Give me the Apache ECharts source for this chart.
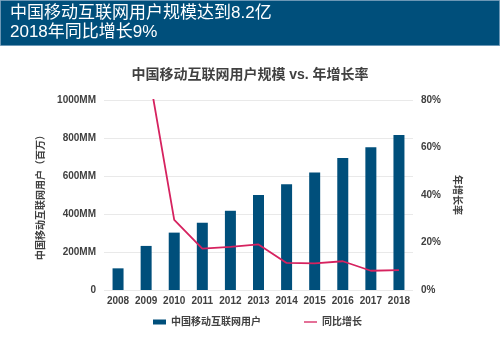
<!DOCTYPE html>
<html><head><meta charset="utf-8">
<script src="https://cdn.jsdelivr.net/npm/echarts@6/dist/echarts.min.js"></script>
<style>html,body{margin:0;padding:0;background:#fff}#c{width:500px;height:347px}</style>
</head><body><div id="c"></div>
<script>
const headerLines = ['中国移动互联网用户规模达到8.2亿', '2018年同比增长9%'];
const chartTitle = '中国移动互联网用户规模 vs. 年增长率';
const years = ['2008','2009','2010','2011','2012','2013','2014','2015','2016','2017','2018'];
const users = [114, 232, 302, 354, 417, 500, 556, 619, 695, 751, 816];
const growth = [null, 0.98, 0.295, 0.174, 0.182, 0.192, 0.114, 0.112, 0.121, 0.081, 0.084];
const usersName = '中国移动互联网用户';
const growthName = '同比增长';
const leftAxisName = '中国移动互联网用户（百万）';
const rightAxisName = '年增长率';

const FONT = '"Liberation Sans","Noto Sans CJK SC",sans-serif';
const chart = echarts.init(document.getElementById('c'));
chart.setOption({
  animation: false,
  textStyle: { fontFamily: FONT },
  graphic: [
    { type: 'rect', shape: { x: 0.5, y: 0.5, width: 499, height: 45 }, style: { fill: '#004f7b', stroke: '#6c97b5', lineWidth: 1 } },
    { type: 'text', left: 10, top: 5, style: { text: headerLines[0], fill: '#fff', font: '17px ' + FONT } },
    { type: 'text', left: 10, top: 24, style: { text: headerLines[1], fill: '#fff', font: '17px ' + FONT } }
  ],
  title: {
    text: chartTitle, left: 'center', top: 63,
    textStyle: { fontSize: 14, fontWeight: 'bold', color: '#404040', fontFamily: FONT }
  },
  legend: {
    bottom: 15, left: 148, itemGap: 43, itemWidth: 13, itemHeight: 5,
    textStyle: { fontSize: 10, fontWeight: 'bold', color: '#404040', fontFamily: FONT },
    data: [{ name: usersName, icon: 'rect' }, { name: growthName, icon: 'path://M0,0H10V1H0Z' }]
  },
  grid: { left: 104, right: 87, top: 100, bottom: 57, containLabel: false },
  xAxis: {
    type: 'category', data: years,
    axisLine: { show: false }, axisTick: { show: false },
    axisLabel: { interval: 0, fontSize: 10, fontWeight: 'bold', color: '#404040', margin: 6 }
  },
  yAxis: [
    {
      type: 'value', min: 0, max: 1000, interval: 200,
      name: leftAxisName, nameLocation: 'middle', nameRotate: 90, nameGap: 58,
      nameTextStyle: { fontSize: 10, fontWeight: 'bold', color: '#404040' },
      axisLabel: { fontSize: 10, fontWeight: 'bold', color: '#404040', margin: 8,
        formatter: v => v === 0 ? '0' : v + 'MM' },
      splitLine: { lineStyle: { color: '#e9e9e9', width: 1 } },
      axisLine: { show: false }, axisTick: { show: false }
    },
    {
      type: 'value', min: 0, max: 0.8, interval: 0.2, position: 'right',
      name: rightAxisName, nameLocation: 'middle', nameRotate: -90, nameGap: 37,
      nameTextStyle: { fontSize: 10, fontWeight: 'bold', color: '#404040' },
      axisLabel: { fontSize: 10, fontWeight: 'bold', color: '#404040', margin: 8,
        formatter: v => Math.round(v * 100) + '%' },
      splitLine: { show: false }, axisLine: { show: false }, axisTick: { show: false }
    }
  ],
  series: [
    { name: usersName, type: 'bar', data: users, barWidth: 11, itemStyle: { color: '#004f7b' } },
    { name: growthName, type: 'line', yAxisIndex: 1, data: growth, symbol: 'none', clip: true,
      lineStyle: { color: '#d6225f', width: 1.8 }, itemStyle: { color: '#d6225f' } }
  ]
});
</script></body></html>
